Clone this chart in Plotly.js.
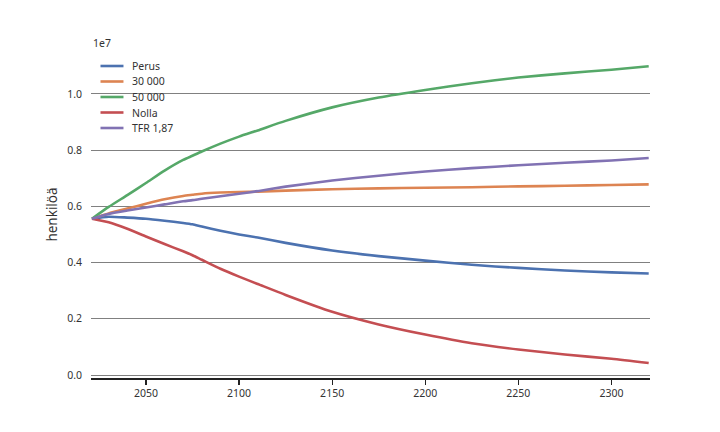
<!DOCTYPE html>
<html>
<head>
<meta charset="utf-8">
<script src="https://cdn.plot.ly/plotly-3.0.1.min.js"></script>
<style>html,body{margin:0;padding:0;background:#fff}#chart{width:720px;height:432px}</style>
</head>
<body>
<div id="chart"></div>
<script>
// Values in units of 1e7 persons
const years = [2021, 2030, 2040, 2050, 2060, 2070, 2075, 2080, 2090, 2100, 2110, 2125, 2150, 2175, 2200, 2225, 2250, 2275, 2300, 2320];
const perus   = [0.556, 0.563, 0.560, 0.556, 0.549, 0.541, 0.536, 0.528, 0.513, 0.500, 0.489, 0.470, 0.443, 0.423, 0.407, 0.392, 0.381, 0.372, 0.365, 0.361];
const s30000  = [0.556, 0.575, 0.592, 0.609, 0.625, 0.637, 0.641, 0.645, 0.649, 0.651, 0.652, 0.656, 0.661, 0.664, 0.666, 0.668, 0.671, 0.673, 0.676, 0.678];
const s50000  = [0.556, 0.598, 0.640, 0.683, 0.727, 0.765, 0.780, 0.795, 0.823, 0.848, 0.870, 0.904, 0.952, 0.987, 1.014, 1.038, 1.058, 1.073, 1.086, 1.098];
const nolla   = [0.556, 0.543, 0.520, 0.493, 0.466, 0.440, 0.426, 0.410, 0.378, 0.350, 0.324, 0.285, 0.225, 0.180, 0.144, 0.113, 0.091, 0.073, 0.058, 0.043];
const tfr187  = [0.556, 0.573, 0.585, 0.596, 0.607, 0.618, 0.622, 0.627, 0.636, 0.645, 0.654, 0.670, 0.692, 0.709, 0.724, 0.736, 0.746, 0.755, 0.763, 0.772];
const names = ['Perus', '30 000', '50 000', 'Nolla', 'TFR 1,87'];
const series = [perus, s30000, s50000, nolla, tfr187];
const colors = ['#4c72b0', '#dd8452', '#55a868', '#c44e52', '#8172b3'];
const yTicks = [0.0, 0.2, 0.4, 0.6, 0.8, 1.0];
const xTicks = [2050, 2100, 2150, 2200, 2250, 2300];

const font = 'Noto Sans, Roboto, sans-serif';
const traces = series.map((s, i) => ({
  x: years, y: s, name: names[i], type: 'scatter', mode: 'lines', showlegend: false,
  line: {color: colors[i], width: 2.6, shape: 'spline', smoothing: 0.6}
}));

// custom compact legend (paper coordinates)
const plotL = 90.5, plotR = 650, plotT = 51, plotB = 378;
const px = p => (p - plotL) / (plotR - plotL);
const py = p => (plotB - p) / (plotB - plotT);
const legTop = 66, legStep = 15.5;
const shapes = [], annotations = [];
names.forEach((n, i) => {
  const yc = legTop + i * legStep;
  shapes.push({type: 'line', xref: 'paper', yref: 'paper', x0: px(100), x1: px(123), y0: py(yc), y1: py(yc),
               line: {color: colors[i], width: 2.6}});
  annotations.push({text: n, xref: 'paper', yref: 'paper', x: px(130), y: py(yc), xanchor: 'left', yanchor: 'middle',
                    showarrow: false, font: {family: font, size: 10.5, color: '#333'}});
});
annotations.push({text: '1e7', xref: 'paper', yref: 'paper', x: 0, y: 1, xanchor: 'left', yanchor: 'bottom',
                  yshift: -1, showarrow: false, font: {family: font, size: 10.5, color: '#333'}});

const layout = {
  width: 720, height: 432,
  margin: {l: plotL, r: 720 - plotR, t: plotT, b: 432 - plotB},
  paper_bgcolor: '#fff', plot_bgcolor: '#fff',
  font: {family: font, size: 10.5, color: '#333'},
  showlegend: false,
  xaxis: {range: [2020.5, 2320.7], tickvals: xTicks, ticks: 'outside', ticklen: 5, tickwidth: 1.2,
          tickcolor: '#222', showline: true, linecolor: '#222', linewidth: 1.5, showgrid: false,
          zeroline: false, tickfont: {family: font, size: 10.5, color: '#333'}},
  yaxis: {range: [-0.0105, 1.1525], tickvals: yTicks, tickformat: '.1f', ticks: '', showline: false,
          showgrid: true, gridcolor: '#808080', gridwidth: 1, zeroline: true, zerolinecolor: '#808080',
          zerolinewidth: 1, ticklabelstandoff: 8,
          tickfont: {family: font, size: 10.5, color: '#333'},
          title: {text: 'henkilöä', font: {family: font, size: 13.5, color: '#333'}, standoff: 6}},
  shapes: shapes,
  annotations: annotations
};
Plotly.newPlot('chart', traces, layout, {displayModeBar: false, staticPlot: true});
</script>
</body>
</html>
